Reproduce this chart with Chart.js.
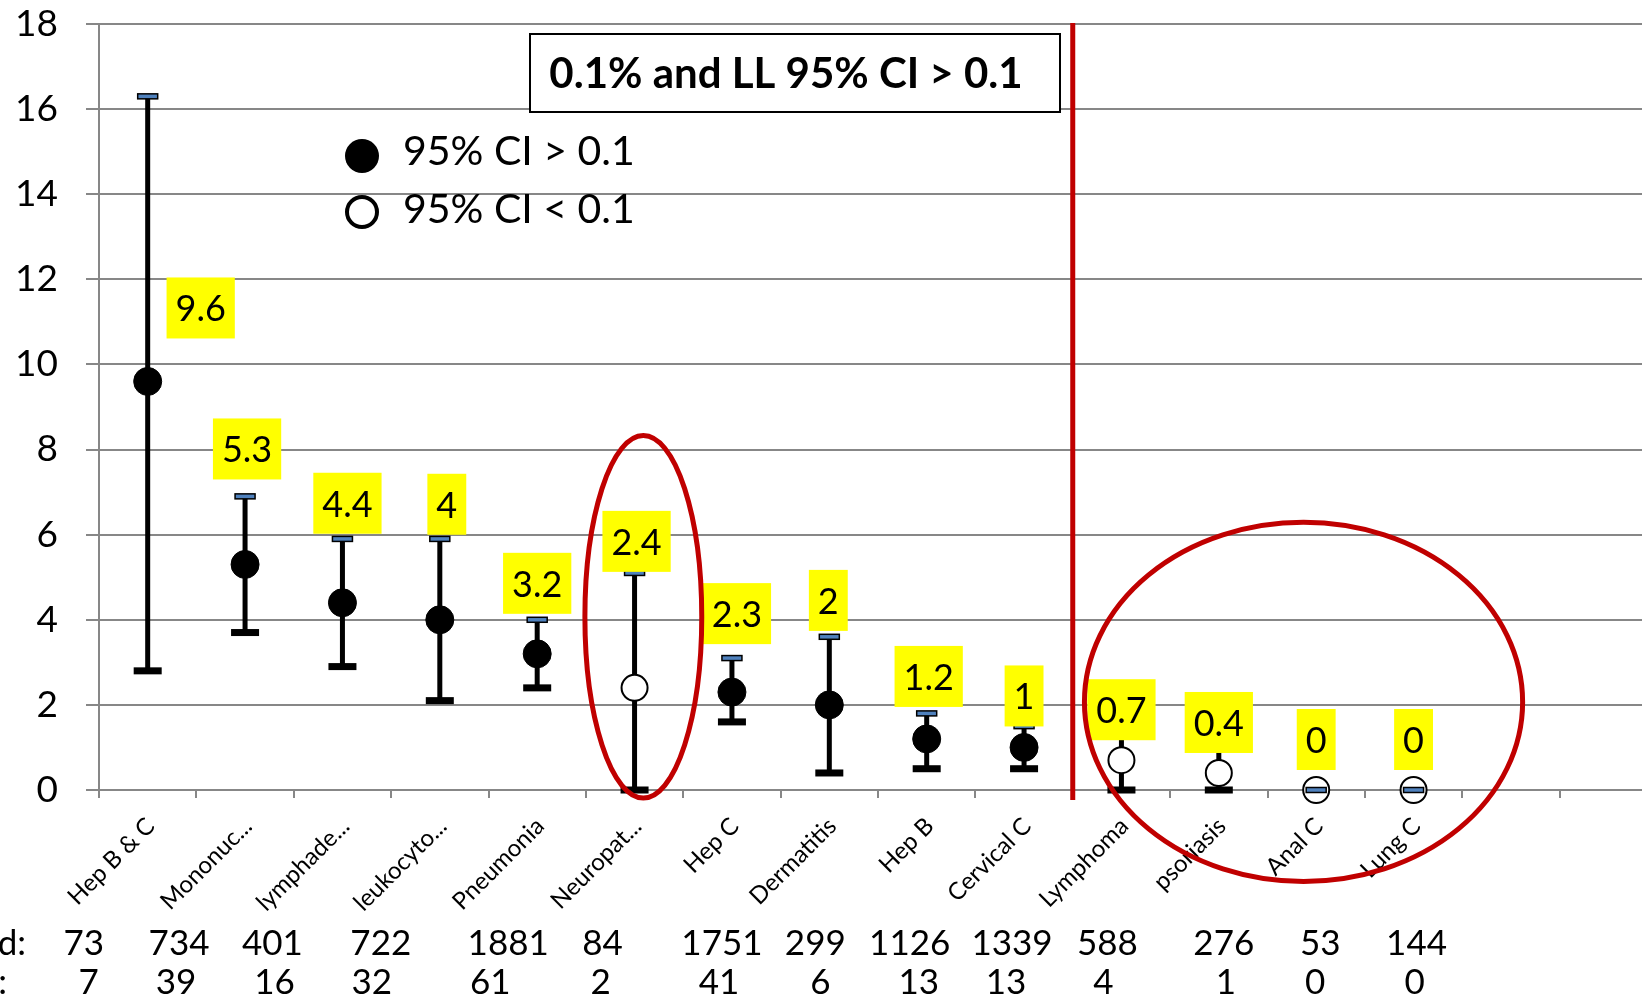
<!DOCTYPE html>
<html>
<head>
<meta charset="utf-8">
<script src="https://cdn.jsdelivr.net/npm/chart.js@4.4.1/dist/chart.umd.min.js"></script>
<style>
  html, body { margin: 0; padding: 0; background: #fff; overflow: hidden; }
  #wrap { position: relative; width: 1642px; height: 997px; overflow: hidden; }
  #box { width: 1680px; height: 997px; }
</style>
</head>
<body>
<div id="wrap"><div id="box"><canvas id="myChart"></canvas></div></div>
<script>
const categories = ['Hep B & C', 'Mononuc...', 'lymphade...', 'leukocyto...', 'Pneumonia', 'Neuropat...',
    'Hep C', 'Dermatitis', 'Hep B', 'Cervical C', 'Lymphoma', 'psoriasis', 'Anal C', 'Lung C', '', ''];
const rates   = [9.6, 5.3, 4.4, 4, 3.2, 2.4, 2.3, 2, 1.2, 1, 0.7, 0.4, 0, 0];
const upperCI = [16.3, 6.9, 5.9, 5.9, 4.0, 5.1, 3.1, 3.6, 1.8, 1.5, 1.7, 2.0, 0, 0];
const lowerCI = [2.8, 3.7, 2.9, 2.1, 2.4, 0.0, 1.6, 0.4, 0.5, 0.5, 0.0, 0.0, null, null];
const ciAbove = [true, true, true, true, true, false, true, true, true, true, false, false, false, false];
const tested   = [73, 734, 401, 722, 1881, 84, 1751, 299, 1126, 1339, 588, 276, 53, 144];
const positive = [7, 39, 16, 32, 61, 2, 41, 6, 13, 13, 4, 1, 0, 0];
const yTicks = [0, 2, 4, 6, 8, 10, 12, 14, 16, 18];
const legendItems = ['95% CI > 0.1', '95% CI < 0.1'];
const boxTitle = '0.1% and LL 95% CI > 0.1';

// label placement (pixels), not data
const labelLift  = [43, 85, 69, 85, 40, 116, 48, 74, 32, 21, 20, 20, 20, 20];
const labelShift = [53, 2, 5, 7, 0, 2, 5, -1, 2, 0, 0, 0, 0, 0];
const testedShift   = [-64, -66, -70, -59, -29, -32, -10, -14, -17, -12, -14, 5, 4, 3];
const positiveShift = [-59, -69, -68, -68, -47, -34, -13, -9, -8, -18, -18, 7, -1, 1];

const RED = '#c00000';
const GRID = '#878787';

function font(size, weight) {
    return (weight || 'normal') + ' ' + size + 'px Lato';
}

const overlay = {
    id: 'overlay',
    beforeDatasetsDraw(chart) {
        const { ctx, scales: { x, y } } = chart;
        ctx.save();
        ctx.strokeStyle = '#000';
        ctx.lineWidth = 5;
        rates.forEach((v, i) => {
            if (lowerCI[i] === null) return;
            const px = x.getPixelForValue(i);
            ctx.beginPath();
            ctx.moveTo(px, y.getPixelForValue(upperCI[i]));
            ctx.lineTo(px, y.getPixelForValue(lowerCI[i]));
            ctx.stroke();
        });
        ctx.restore();
    },
    afterDatasetsDraw(chart) {
        const { ctx, scales: { x, y } } = chart;
        ctx.save();
        // caps
        rates.forEach((v, i) => {
            const px = x.getPixelForValue(i);
            if (lowerCI[i] !== null) {
                ctx.fillStyle = '#000';
                ctx.fillRect(px - 14, y.getPixelForValue(lowerCI[i]) - 3.5, 28, 7);
            }
            const yu = y.getPixelForValue(upperCI[i]);
            ctx.fillStyle = '#4f81bd';
            ctx.fillRect(px - 10, yu - 2.5, 20, 5);
            ctx.strokeStyle = '#000';
            ctx.lineWidth = 1.5;
            ctx.strokeRect(px - 10, yu - 2.5, 20, 5);
        });
        // value labels
        ctx.font = font(36);
        ctx.textAlign = 'center';
        ctx.textBaseline = 'alphabetic';
        rates.forEach((v, i) => {
            const txt = String(v);
            const cx = x.getPixelForValue(i) + labelShift[i];
            const bottom = y.getPixelForValue(v) - labelLift[i];
            const w = ctx.measureText(txt).width + 18;
            ctx.fillStyle = '#ffff00';
            ctx.fillRect(cx - w / 2, bottom - 61, w, 61);
            ctx.fillStyle = '#000';
            ctx.fillText(txt, cx, bottom - 17);
        });
        ctx.restore();
    },
    afterDraw(chart) {
        const { ctx, chartArea, scales: { x, y } } = chart;
        ctx.save();

        // title box
        ctx.fillStyle = '#fff';
        ctx.fillRect(530, 34, 530, 78);
        ctx.strokeStyle = '#000';
        ctx.lineWidth = 2;
        ctx.strokeRect(530, 34, 530, 78);
        ctx.fillStyle = '#000';
        ctx.font = font(42, 'bold');
        ctx.textAlign = 'center';
        ctx.textBaseline = 'alphabetic';
        ctx.fillText(boxTitle, 786, 88);

        // legend
        ctx.beginPath();
        ctx.arc(362, 156, 17, 0, Math.PI * 2);
        ctx.fill();
        ctx.beginPath();
        ctx.arc(362, 212, 15, 0, Math.PI * 2);
        ctx.fillStyle = '#fff';
        ctx.fill();
        ctx.lineWidth = 4;
        ctx.stroke();
        ctx.fillStyle = '#000';
        ctx.font = font(41);
        ctx.textAlign = 'left';
        ctx.fillText(legendItems[0], 403, 165);
        ctx.fillText(legendItems[1], 403, 223);

        // separator between groups
        const sx = (x.getPixelForValue(9) + x.getPixelForValue(10)) / 2;
        ctx.strokeStyle = RED;
        ctx.lineWidth = 5;
        ctx.beginPath();
        ctx.moveTo(sx, chartArea.top - 1);
        ctx.lineTo(sx, chartArea.bottom + 10);
        ctx.stroke();

        // highlight ellipses (in data units)
        const step = x.getPixelForValue(1) - x.getPixelForValue(0);
        const unit = y.getPixelForValue(0) - y.getPixelForValue(1);
        [[5.09, 4.07, 0.6, 4.26], [11.87, 2.07, 2.25, 4.22]].forEach(([cx, cy, rx, ry]) => {
            ctx.beginPath();
            ctx.ellipse(x.getPixelForValue(0) + cx * step, y.getPixelForValue(cy), rx * step, ry * unit, 0, 0, Math.PI * 2);
            ctx.lineWidth = 5;
            ctx.stroke();
        });

        // counts under the axis
        ctx.fillStyle = '#000';
        ctx.font = font(35);
        ctx.textAlign = 'right';
        ctx.fillText('d:', 26, 955);
        ctx.fillText(':', 7, 994);
        ctx.textAlign = 'center';
        tested.forEach((n, i) => {
            const px = x.getPixelForValue(i);
            ctx.fillText(String(n), px + testedShift[i], 955);
            ctx.fillText(String(positive[i]), px + positiveShift[i], 994);
        });
        ctx.restore();
    }
};

const ctx = document.getElementById('myChart').getContext('2d');
const myChart = new Chart(ctx, {
    type: 'line',
    data: {
        labels: categories,
        datasets: [{
            label: legendItems[0],
            data: rates.map((v, i) => ciAbove[i] ? v : null),
            showLine: false,
            pointRadius: 14,
            pointBackgroundColor: '#000',
            pointBorderColor: '#000',
            pointBorderWidth: 1,
            clip: false
        }, {
            label: legendItems[1],
            data: rates.map((v, i) => ciAbove[i] ? null : v),
            showLine: false,
            pointRadius: 13,
            pointBackgroundColor: '#fff',
            pointBorderColor: '#000',
            pointBorderWidth: 2,
            clip: false
        }]
    },
    options: {
        responsive: true,
        maintainAspectRatio: false,
        animation: false,
        events: [],
        layout: { padding: { left: 0, right: 23, top: 24, bottom: 0 } },
        plugins: { legend: { display: false }, tooltip: { enabled: false } },
        scales: {
            x: {
                offset: true,
                grid: { display: true, drawOnChartArea: false, drawTicks: true, tickLength: 8, color: GRID, lineWidth: 2, offset: true },
                border: { display: true, color: GRID, width: 2 },
                ticks: {
                    autoSkip: false, minRotation: 45, maxRotation: 45,
                    labelOffset: 3, padding: 14,
                    color: '#000', font: { family: 'Lato', size: 24 }
                },
                afterFit: s => { s.height = 207; s.paddingLeft = 0; s.paddingRight = 0; }
            },
            y: {
                min: yTicks[0],
                max: yTicks[yTicks.length - 1],
                afterBuildTicks: s => { s.ticks = yTicks.map(v => ({ value: v })); },
                grid: { color: GRID, lineWidth: 2, tickLength: 13 },
                border: { display: true, color: GRID, width: 2 },
                ticks: { padding: 28, color: '#000', font: { family: 'Lato', size: 37 } },
                afterFit: s => { s.width = 99; s.paddingTop = 0; s.paddingBottom = 0; }
            }
        }
    },
    plugins: [overlay]
});
</script>
</body>
</html>
